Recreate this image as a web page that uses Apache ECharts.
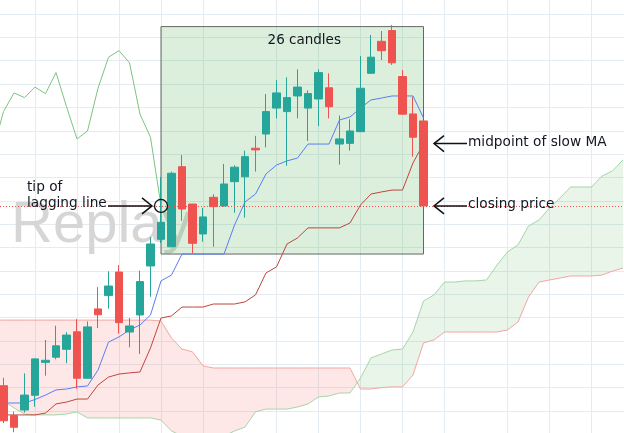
<!DOCTYPE html>
<html>
<head>
<meta charset="utf-8">
<script src="https://cdn.jsdelivr.net/npm/echarts@6/dist/echarts.min.js"></script>
<style>
  html, body { margin: 0; padding: 0; background: #fff; }
  #chart { width: 624px; height: 433px; }
</style>
</head>
<body>
<div id="chart"></div>
<script>
// candles, x = candle index 0..40
var candleOpen  = [20.8, 8.0, 10.4, 16.7, 30.8, 33.0, 36.4, 43.9, 24.0, 53.7, 59.4, 69.5, 43.8, 51.1, 72.1, 83.5, 80.3, 114.6, 98.6, 85.8, 101.5,
                   97.8, 108.2, 110.3, 122.5, 128.6, 139.7, 138.2, 144.9, 139.7, 143.6, 148.4, 124.3, 124.6, 129.6, 154.6, 168.3, 172.9, 153.2, 137.2, 134.2];
var candleClose = [5.8, 3.0, 16.8, 32.3, 31.7, 37.9, 42.5, 24.0, 46.0, 51.2, 63.5, 47.8, 46.4, 65.4, 81.5, 90.8, 111.8, 96.5, 81.8, 93.1, 97.5,
                   107.2, 114.4, 118.9, 121.8, 138.2, 146.2, 144.2, 148.7, 145.9, 154.9, 140.3, 126.5, 129.9, 148.2, 161.5, 164.3, 159.1, 137.1, 127.2, 97.8];
var candleLow   = [4.8, 0.9, 9.3, 11.8, 25.1, 32.1, 30.4, 19.5, 23.9, 45.5, 53.8, 43.1, 37.3, 34.4, 58.9, 81.9, 80.2, 91.4, 77.5, 82.5, 80.3,
                   97.5, 94.9, 92.8, 112.5, 122.9, 135.3, 115.0, 135.3, 125.6, 132.0, 135.3, 115.5, 121.5, 129.5, 154.5, 160.3, 158.2, 137.0, 118.9, 97.7];
var candleHigh  = [24.2, 9.7, 26.1, 32.5, 40.4, 46.5, 43.8, 49.3, 48.4, 63.0, 69.8, 72.5, 49.8, 70.1, 84.5, 110.2, 112.5, 119.6, 98.7, 97.0, 102.8,
                   115.8, 115.2, 121.5, 127.8, 145.7, 151.7, 152.9, 156.3, 147.3, 156.3, 154.6, 136.5, 134.9, 162.0, 171.0, 172.7, 175.3, 156.0, 144.5, 134.5];

// lagging line = closes shifted back
var lagShift = 25;

// conversion (fast) and base (slow) lines, first value at index -1
var lineStart = -1;
var conversionLine = [13.4, 13.4, 13.4, 13.4, 14.9, 16.8, 19.0, 19.4, 20.3, 20.7, 27.5, 39.5, 41.7, 44.7, 46.8, 51.1, 65.7, 68.2, 77.2, 77.2, 77.2,
                      77.2, 77.2, 89.6, 99.5, 102.9, 111.5, 115.3, 117.1, 118.3, 124.3, 124.3, 124.3, 134.6, 135.9, 139.7, 143.2, 144.0, 144.9, 144.9, 144.9, 135.5];
var baseLine = [8.3, 8.3, 8.3, 8.3, 8.3, 9.1, 13.0, 13.8, 15.1, 15.1, 21.1, 24.5, 25.8, 26.3, 26.7, 37.0, 49.8, 50.7, 54.5, 54.5, 54.5,
                55.8, 55.8, 55.8, 56.7, 59.7, 69.1, 71.7, 81.5, 84.1, 88.4, 88.4, 88.4, 88.4, 90.5, 98.2, 102.9, 103.8, 104.6, 104.6, 116.2, 124.5];

// cloud spans, index -1..59
var cloudStart = -1;
var leadA = [16.4, 14.3, 11.3, 8.7, 8.3, 8.3, 8.3, 8.7, 9.6, 7.0, 7.0, 7.0, 7.0, 7.0, 7.0, 7.0, 6.1, 1.4, -0.7, -1.2, -1.2,
             -1.2, -0.7, 1.4, 3.1, 9.6, 10.8, 10.8, 10.8, 11.7, 13.0, 16.0, 16.4, 17.7, 17.7, 24.1, 32.7, 34.4, 36.1, 36.5, 43.8,
             57.1, 59.7, 65.2, 65.2, 65.7, 65.7, 66.1, 72.5, 78.1, 81.1, 89.2, 91.8, 96.9, 101.2, 105.9, 105.9, 105.9, 110.6, 112.8, 117.5];
var leadB = [48.9, 48.9, 48.9, 48.9, 48.9, 48.9, 48.9, 48.9, 48.9, 48.9, 48.9, 48.9, 48.9, 48.9, 48.9, 48.9, 48.5, 41.2, 36.5, 35.3, 29.3,
             28.4, 28.4, 28.4, 28.4, 28.4, 28.4, 28.4, 28.4, 28.4, 28.4, 28.4, 28.4, 28.4, 28.4, 19.4, 19.4, 20.0, 20.3, 20.3, 25.4,
             39.1, 40.4, 43.8, 43.8, 43.8, 43.8, 43.8, 43.8, 44.7, 48.1, 58.8, 65.2, 66.1, 66.9, 67.8, 67.8, 67.8, 68.2, 69.9, 71.2];

// vertical time grid lines (candle index)
var timeGridIdx = [3, 7, 11, 15, 19, 26, 30, 34, 38, 42, 48, 52, 56];

var gridColor = '#e4ecf1';
var upColor = '#26a69a';
var downColor = '#ef5350';
var textFont = '"DejaVu Sans", sans-serif';

function toPairs(arr, start) {
    return arr.map(function (v, k) { return [start + k, v]; });
}

var candleData = candleOpen.map(function (o, i) {
    return [i, o, candleClose[i], candleLow[i], candleHigh[i]];
});
var lagData = candleClose.map(function (c, i) { return [i - lagShift, c]; });
var lastIdx = candleClose.length - 1;
var lastClose = candleClose[lastIdx];

// split the cloud where the two spans cross
function cloudRuns() {
    var runs = [], cur = null;
    for (var k = 0; k < leadA.length; k++) {
        var x = cloudStart + k, a = leadA[k], b = leadB[k];
        var up = a >= b;
        if (cur && up !== cur.up) {
            var a0 = leadA[k - 1], b0 = leadB[k - 1];
            var t = (a0 - b0) / ((a0 - b0) - (a - b));
            var cy = a0 + (a - a0) * t;
            cur.pts.push([x - 1 + t, cy, cy]);
            runs.push(cur);
            cur = { up: up, pts: [[x - 1 + t, cy, cy]] };
        }
        if (!cur) cur = { up: up, pts: [] };
        cur.pts.push([x, a, b]);
    }
    runs.push(cur);
    return runs;
}

function renderCloud(params, api) {
    var children = cloudRuns().map(function (r) {
        var top = r.pts.map(function (p) { return api.coord([p[0], p[1]]); });
        var bot = r.pts.slice().reverse().map(function (p) { return api.coord([p[0], p[2]]); });
        return {
            type: 'polygon',
            shape: { points: top.concat(bot) },
            style: { fill: r.up ? 'rgba(76,175,80,0.13)' : 'rgba(244,67,54,0.12)' }
        };
    });
    return { type: 'group', children: children };
}

var myChart = echarts.init(document.getElementById('chart'));

var option = {
    animation: false,
    backgroundColor: '#ffffff',
    grid: { left: 0, right: 0, top: -9.35, bottom: -1.3, outerBoundsMode: 'none' },
    xAxis: {
        type: 'value',
        min: -1 / 3,
        max: 59.095,
        axisLine: { show: false },
        axisTick: { show: false },
        axisLabel: { show: false },
        splitLine: { show: false }
    },
    yAxis: {
        type: 'value',
        min: 0,
        max: 190,
        interval: 10,
        axisLine: { show: false },
        axisTick: { show: false },
        axisLabel: { show: false },
        splitLine: { lineStyle: { color: gridColor, width: 1 } }
    },
    series: [
        {
            name: 'cloud',
            type: 'custom',
            renderItem: renderCloud,
            data: [[0, 0]],
            silent: true,
            z: 1
        },
        {
            name: 'Lead 1',
            type: 'line',
            data: toPairs(leadA, cloudStart),
            showSymbol: false,
            silent: true,
            lineStyle: { color: '#a5d6a7', width: 1 },
            z: 2,
            markLine: {
                silent: true,
                z: 0,
                symbol: ['none', 'none'],
                label: { show: false },
                lineStyle: { color: gridColor, width: 1, type: 'solid' },
                data: timeGridIdx.map(function (i) { return { xAxis: i }; })
            }
        },
        {
            name: 'Lead 2',
            type: 'line',
            data: toPairs(leadB, cloudStart),
            showSymbol: false,
            silent: true,
            lineStyle: { color: '#f4a6a1', width: 1 },
            z: 2
        },
        {
            name: 'Lagging',
            type: 'line',
            data: lagData,
            showSymbol: false,
            silent: true,
            lineStyle: { color: '#7cc480', width: 1 },
            z: 3
        },
        {
            name: 'Base',
            type: 'line',
            data: toPairs(baseLine, lineStart),
            showSymbol: false,
            silent: true,
            lineStyle: { color: '#c0453e', width: 1 },
            z: 3
        },
        {
            name: 'Conversion',
            type: 'line',
            data: toPairs(conversionLine, lineStart),
            showSymbol: false,
            silent: true,
            lineStyle: { color: '#5a7ef2', width: 1 },
            z: 3
        },
        {
            name: 'Price',
            type: 'candlestick',
            data: candleData,
            barWidth: 8,
            silent: true,
            z: 4,
            itemStyle: {
                color: upColor,
                color0: downColor,
                borderColor: upColor,
                borderColor0: downColor,
                borderWidth: 1
            },
            markArea: {
                silent: true,
                itemStyle: { color: 'rgba(76,175,80,0.2)', borderColor: '#666666', borderWidth: 1 },
                label: {
                    show: true,
                    position: 'insideTop',
                    distance: 7,
                    offset: [12, 0],
                    formatter: '26 candles',
                    fontFamily: textFont,
                    fontSize: 13.5,
                    color: '#131722'
                },
                data: [[{ xAxis: 15, yAxis: 77.2 }, { xAxis: 40, yAxis: 174.6 }]]
            },
            markLine: {
                silent: true,
                symbol: ['none', 'none'],
                label: { show: false },
                lineStyle: { color: downColor, width: 1, type: [1, 2] },
                data: [{ yAxis: lastClose }]
            }
        }
    ]
};
myChart.setOption(option);

// annotations placed from the data
var tip = myChart.convertToPixel({ gridIndex: 0 }, [lastIdx - lagShift, lastClose]);
var closePx = myChart.convertToPixel({ gridIndex: 0 }, [lastIdx + 1, lastClose]);
var midPx = myChart.convertToPixel({ gridIndex: 0 }, [lastIdx + 1, baseLine[baseLine.length - 1]]);
var arrowStyle = { stroke: '#111111', lineWidth: 1.5, fill: null };

function arrow(xTail, xHead, y) {
    var d = xTail > xHead ? 10 : -10;
    return [
        { type: 'line', z: 100, shape: { x1: xTail, y1: y, x2: xHead, y2: y }, style: arrowStyle },
        { type: 'polyline', z: 100, shape: { points: [[xHead + d, y - 8], [xHead, y], [xHead + d, y + 8]] }, style: arrowStyle }
    ];
}
function label(text, x, y) {
    return { type: 'text', z: 100, style: { text: text, x: x, y: y, fill: '#131722', font: '13.7px ' + textFont, textVerticalAlign: 'middle' } };
}

var graphics = [
    { type: 'text', z: 0, style: { text: 'Replay', x: 11, y: 255, fill: '#d6d6d6', font: '58px "Liberation Sans", Arial, sans-serif', textVerticalAlign: 'bottom' } },
    { type: 'circle', z: 100, shape: { cx: tip[0], cy: tip[1], r: 6.5 }, style: { stroke: '#111111', lineWidth: 1.3, fill: null } },
    label('tip of', 27, tip[1] - 18),
    label('lagging line', 27, tip[1] - 2.5)
].concat(arrow(tip[0] - 53, tip[0] - 9, tip[1]))
 .concat(arrow(midPx[0] + 33, midPx[0], midPx[1]))
 .concat(arrow(closePx[0] + 33, closePx[0], closePx[1]))
 .concat([
    label('midpoint of slow MA', midPx[0] + 34, midPx[1] - 1.5),
    label('closing price', closePx[0] + 34, closePx[1] - 1)
 ]);

myChart.setOption({ graphic: graphics });

window.addEventListener('resize', function () {
    myChart.resize();
});
</script>
</body>
</html>
